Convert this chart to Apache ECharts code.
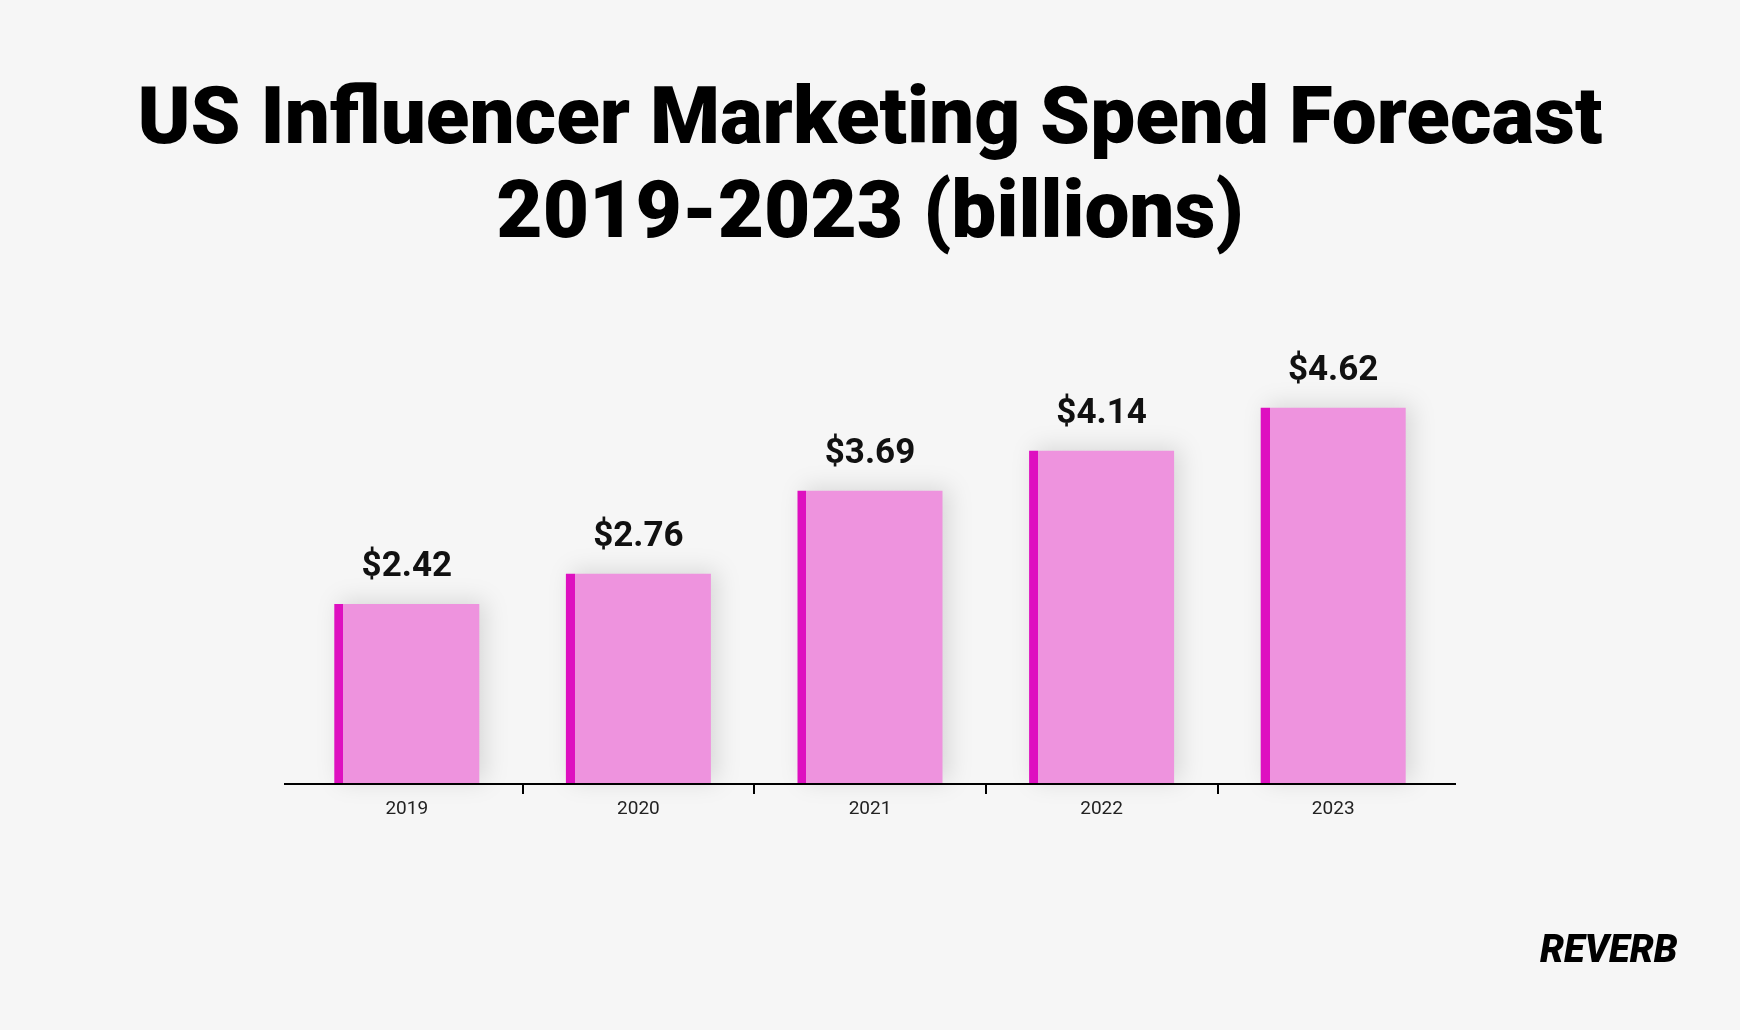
<!DOCTYPE html>
<html>
<head>
<meta charset="utf-8">
<script src="https://cdn.jsdelivr.net/npm/echarts@6/dist/echarts.min.js"></script>
<style>
html,body{margin:0;padding:0;background:#f6f6f6;}
#chart{width:1740px;height:1030px;}
</style>
</head>
<body>
<div id="chart"></div>
<script>
const titleLines = ['US Influencer Marketing Spend Forecast', '2019-2023 (billions)'];
const categories = ['2019', '2020', '2021', '2022', '2023'];
const spend = [2.42, 2.76, 3.69, 4.14, 4.62];
const tickSlots = ['', '', '', '', '', ''];
const brand = 'REVERB';

const chart = echarts.init(document.getElementById('chart'), null, {renderer: 'canvas'});
const PINK = '#ee93de';
const MAGENTA = '#de10c0';

chart.setOption({
  backgroundColor: '#f6f6f6',
  animation: false,
  title: {
    text: titleLines.join('\n'),
    left: 'center',
    top: 76,
    padding: 0,
    textStyle: {
      fontFamily: 'Roboto',
      fontWeight: 900,
      fontSize: 80,
      lineHeight: 94,
      color: '#000'
    }
  },
  grid: {left: 291, right: 291, top: 374, bottom: 246},
  xAxis: [{
    type: 'category',
    data: categories,
    position: 'bottom',
    axisLine: {show: true, onZero: false, lineStyle: {color: '#000', width: 2}},
    axisTick: {show: false},
    axisLabel: {
      margin: 16,
      fontFamily: 'Roboto',
      fontSize: 19,
      color: '#222'
    }
  }, {
    type: 'category',
    data: tickSlots,
    boundaryGap: false,
    position: 'bottom',
    axisLine: {show: false, onZero: false},
    axisLabel: {show: false},
    axisTick: {
      show: true,
      length: 10,
      interval: function (i) { return i > 0 && i < tickSlots.length - 1; },
      lineStyle: {color: '#000', width: 2}
    }
  }],
  yAxis: {type: 'value', min: 0.4, max: 5, show: false},
  series: [{
    type: 'bar',
    data: spend,
    barWidth: 145,
    itemStyle: {
      color: new echarts.graphic.LinearGradient(0, 0, 1, 0, [
        {offset: 0, color: MAGENTA},
        {offset: 0.062, color: MAGENTA},
        {offset: 0.062, color: PINK},
        {offset: 1, color: PINK}
      ]),
      shadowBlur: 22,
      shadowColor: 'rgba(0,0,0,0.13)',
      shadowOffsetX: 6,
      shadowOffsetY: -3
    },
    label: {
      show: true,
      position: 'top',
      distance: 19,
      fontFamily: 'Roboto',
      fontWeight: 'bold',
      fontSize: 35,
      color: '#111',
      formatter: function (p) { return '$' + p.value.toFixed(2); }
    }
  }],
  graphic: [{
    type: 'line',
    shape: {x1: 284, y1: 784, x2: 1456, y2: 784},
    style: {stroke: '#000', lineWidth: 2},
    z: 10
  }, {
    type: 'text',
    left: 1540,
    top: 933,
    style: {
      text: brand,
      fontFamily: 'Roboto',
      fontWeight: 900,
      fontStyle: 'italic',
      fontSize: 38,
      fill: '#000'
    }
  }]
});
</script>
</body>
</html>
